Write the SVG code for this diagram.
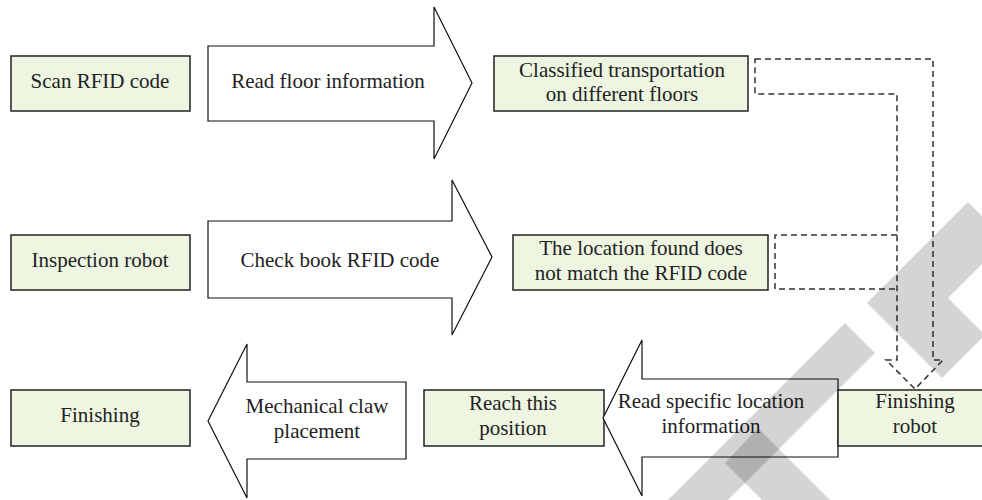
<svg xmlns="http://www.w3.org/2000/svg" width="982" height="500" viewBox="0 0 982 500">
<style>
.box{fill:#EEF6E2;stroke:#222;stroke-width:1.5}
.arrow{fill:#fff;stroke:#111;stroke-width:1.2}
.dash{fill:none;stroke:#333;stroke-width:1.5;stroke-dasharray:6 4}
.t{font-family:"Liberation Serif",serif;font-size:21px;text-anchor:middle;fill:#222}
.wm{fill:#000;fill-opacity:0.17}
</style>
<rect width="982" height="500" fill="#fff"/>
<g id="scan-rfid"><rect class="box" x="11" y="56" width="179" height="55"/><text class="t" x="100" y="88">Scan RFID code</text></g>
<g id="read-floor"><polygon class="arrow" points="208,46 434,46 434,7 472,83 434,159 434,121 208,121"/><text class="t" x="328" y="88">Read floor information</text></g>
<g id="classified"><rect class="box" x="494" y="56" width="254" height="55"/><text class="t" x="622" y="77">Classified transportation</text><text class="t" x="622" y="101">on different floors</text></g>
<g id="inspection"><rect class="box" x="11" y="235" width="179" height="55"/><text class="t" x="100" y="267">Inspection robot</text></g>
<g id="check-book"><polygon class="arrow" points="208,221 452,221 452,180 492,257 452,335 452,298 208,298"/><text class="t" x="340" y="267">Check book RFID code</text></g>
<g id="location-mismatch"><rect class="box" x="513" y="235" width="255" height="55"/><text class="t" x="641" y="255">The location found does</text><text class="t" x="641" y="280">not match the RFID code</text></g>
<g id="finishing"><rect class="box" x="11" y="390" width="179" height="56"/><text class="t" x="100" y="422">Finishing</text></g>
<g id="claw"><polygon class="arrow" points="406,382 247,382 247,344 208,421 247,498 247,459 406,459"/><text class="t" x="317" y="413">Mechanical claw</text><text class="t" x="317" y="438">placement</text></g>
<g id="reach"><rect class="box" x="424" y="390" width="180" height="56"/><text class="t" x="513" y="410">Reach this</text><text class="t" x="513" y="435">position</text></g>
<g id="read-specific"><polygon class="arrow" points="838,379 642,379 642,340 603,418 642,496 642,457 838,457"/><text class="t" x="711" y="408">Read specific location</text><text class="t" x="711" y="433">information</text></g>
<g id="finishing-robot"><rect class="box" x="838" y="390" width="160" height="56"/><text class="t" x="915" y="408">Finishing</text><text class="t" x="915" y="433">robot</text></g>
<g id="connectors">
<path class="dash" d="M755,59 H933 V360 H943 L915,389 L886,360 H897 V94 H755 Z"/>
<path class="dash" d="M897,235 H775 V289 H897"/>
</g>
<g id="watermark">
<polygon class="wm" points="968,202 867,303 942,378 985,335 948,298 1006,240"/>
<polygon class="wm" points="845,323 668,500 728,500 875,353"/>
<polygon class="wm" points="725,463 762,500 830,500 758,428"/>
</g>
</svg>
